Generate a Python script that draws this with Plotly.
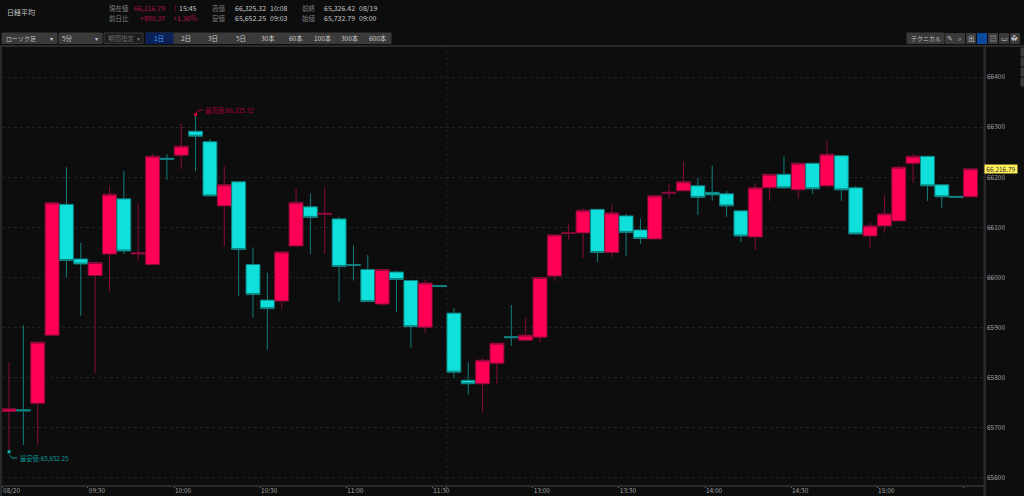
import plotly.graph_objects as go

times = ['09:00', '09:05', '09:10', '09:15', '09:20', '09:25', '09:30', '09:35', '09:40', '09:45', '09:50', '09:55',
         '10:00', '10:05', '10:10', '10:15', '10:20', '10:25', '10:30', '10:35', '10:40', '10:45', '10:50', '10:55',
         '11:00', '11:05', '11:10', '11:15', '11:20', '11:25', '11:30',
         '12:30', '12:35', '12:40', '12:45', '12:50', '12:55', '13:00', '13:05', '13:10', '13:15', '13:20', '13:25',
         '13:30', '13:35', '13:40', '13:45', '13:50', '13:55', '14:00', '14:05', '14:10', '14:15', '14:20', '14:25',
         '14:30', '14:35', '14:40', '14:45', '14:50', '14:55', '15:00', '15:05', '15:10', '15:15', '15:20', '15:25',
         '15:30']

opens = [65732.79, 65736, 65749, 65885, 66146, 66037, 66004, 66047, 66157, 66047, 66026, 66238,
         66244, 66292, 66271, 66143, 66191, 66026, 65955, 65953, 66063, 66141, 66126, 66117,
         66026, 66016, 65947, 66011, 65994, 65901, 65984,
         65929, 65795, 65788, 65829, 65882, 65875, 65881, 66003, 66088, 66089, 66136, 66050,
         66123, 66095, 66077, 66168, 66173, 66183, 66170, 66167, 66133, 66081, 66179, 66206,
         66175, 66228, 66183, 66243, 66179, 66083, 66103, 66113, 66228, 66242, 66185, 66162,
         66161]
highs = [65831, 65905, 65871, 66149, 66220, 66069, 66030, 66183, 66212, 66148, 66246, 66246,
         66306, 66325.32, 66276, 66222, 66191, 66060, 66010, 66051, 66177, 66168, 66180, 66121,
         66064, 66045, 66016, 66013, 65994, 65996, 65984,
         65939, 65831, 65839, 65869, 65945, 65920, 66000, 66085, 66108, 66138, 66137, 66146,
         66127, 66117, 66163, 66187, 66231, 66199, 66223, 66173, 66133, 66187, 66206, 66242,
         66230, 66228, 66272, 66243, 66183, 66111, 66165, 66224, 66246, 66242, 66185, 66162,
         66216.79]
lows = [65652.25, 65666, 65666, 65885, 66000, 65924, 65809, 65972, 66047, 66034, 66026, 66195,
        66216, 66212, 66163, 66063, 65963, 65920, 65856, 65938, 66063, 66047, 66047, 65952,
        65994, 65952, 65943, 65931, 65860, 65889, 65982,
        65800, 65766, 65731, 65788, 65864, 65873, 65871, 65993, 66075, 66039, 66031, 66041,
        66043, 66067, 66077, 66157, 66173, 66125, 66153, 66121, 66071, 66055, 66153, 66177,
        66157, 66167, 66179, 66153, 66087, 66059, 66089, 66113, 66189, 66153, 66139, 66160,
        66161]
closes = [65738, 65734, 65871, 66149, 66034, 66027, 66030, 66166, 66053, 66049, 66242, 66236,
          66262, 66282, 66163, 66185, 66056, 65966, 65938, 66051, 66150, 66120, 66128, 66022,
          66024, 65952, 66016, 65996, 65902, 65989, 65982,
          65811, 65788, 65835, 65869, 65880, 65885, 66000, 66085, 66089, 66134, 66050, 66129,
          66090, 66078, 66163, 66170, 66191, 66160, 66165, 66143, 66083, 66179, 66206, 66179,
          66228, 66177, 66246, 66175, 66087, 66103, 66127, 66220, 66242, 66183, 66161, 66160,
          66216.79]

tick_pos = [-0.45, 5.5, 11.5, 17.5, 23.5, 29.5, 30.5, 36.5, 42.5, 48.5, 54.5, 60.5, 66.5]
tick_labels = ['08/20', '09:30', '10:00', '10:30', '11:00', '11:30', '', '13:00', '13:30', '14:00', '14:30', '15:00', '']

range_buttons = ['1日', '2日', '3日', '5日', '30本', '60本', '100本', '300本', '600本']
info_labels = ['現在値', '前日比', '高値', '安値', '前終', '始値']
info_values = ['15:45', '+890.37', '+1.36%', '66,325.32', '10:08', '65,652.25', '09:03',
               '65,326.42', '08/19', '65,732.79', '09:00']
tool_icons = ['✎', '⌕', '出', '', '▤', '▭', '✿']

JP = 'Noto Sans CJK JP'
BG = '#0d0d0d'
PINK = '#ff0055'
TEAL = '#10e0dc'
PLOT_L, PLOT_R, PLOT_T, PLOT_B = 2, 984, 46, 486


def px(x):
    return (x - PLOT_L) / (PLOT_R - PLOT_L)


def py(y):
    return (PLOT_B - y) / (PLOT_B - PLOT_T)


def label(x, y, text, color='#a8a8a8', size=7, anchor='left', **kw):
    return dict(x=px(x), y=py(y), xref='paper', yref='paper', text=text, showarrow=False,
                xanchor=anchor, yanchor='middle', font=dict(family=JP, size=size, color=color),
                **kw)


def box(x0, y0, x1, y1, fill, line=None):
    return dict(type='rect', xref='paper', yref='paper', x0=px(x0), x1=px(x1), y0=py(y0), y1=py(y1),
                fillcolor=fill, line=dict(color=line or fill, width=1), layer='above')


bar_index = list(range(len(times)))

fig = go.Figure()
fig.add_trace(go.Candlestick(
    x=bar_index, open=opens, high=highs, low=lows, close=closes, text=times,
    increasing=dict(fillcolor=PINK, line=dict(color='#8a0a3e', width=1)),
    decreasing=dict(fillcolor=TEAL, line=dict(color='#0f7f7d', width=1)),
    whiskerwidth=0, showlegend=False,
))

# 高値・安値の印
hi_i = highs.index(max(highs))
lo_i = lows.index(min(lows))
fig.add_trace(go.Scatter(x=[hi_i], y=[highs[hi_i]], mode='markers', showlegend=False,
                         marker=dict(symbol='square', size=3, color='#c8003f')))
fig.add_trace(go.Scatter(x=[lo_i], y=[lows[lo_i]], mode='markers', showlegend=False,
                         marker=dict(symbol='square', size=3, color='#10b0ac')))

shapes = [
    # 11:30 の区切り線
    dict(type='line', xref='x', yref='paper', x0=30.5, x1=30.5, y0=0, y1=1,
         line=dict(color='#222222', width=1, dash='dot'), layer='below'),
    # 軸の枠
    box(0, 45.5, 1024, 46.5, '#2a2a2a'),
    box(984, 46, 985.5, 496, '#2a2a2a'),
    box(0.5, 46, 1.5, 496, '#2a2a2a'),
    box(0, 485.5, 985, 486.5, '#2a2a2a'),
    # ツールバー
    box(2, 33, 57, 43.5, '#3a3a3a'),
    box(59, 33, 102, 43.5, '#3a3a3a'),
    box(104, 33, 143, 43.5, '#1c1c1c', '#3a3a3a'),
    box(146, 33, 391, 43.5, '#3a3a3a'),
    box(146, 33, 173, 43.5, '#0a2258'),
    box(907, 33, 944, 43.5, '#3a3a3a'),
    # 高値・安値のつなぎ線
    dict(type='path', xref='paper', yref='paper', line=dict(color='#a80038', width=1),
         path=f'M {px(196)} {py(113)} L {px(199)} {py(110)} L {px(203)} {py(110)}'),
    dict(type='path', xref='paper', yref='paper', line=dict(color='#0f9a98', width=1),
         path=f'M {px(9.5)} {py(455)} L {px(12)} {py(458)} L {px(17)} {py(458)}'),
]
icon_x = [950, 960, 971, 982, 993, 1004, 1015]
for cx in icon_x:
    shapes.append(box(cx - 4.5, 33.5, cx + 4.5, 43.5, '#0a4aa0' if cx == 982 else '#3a3a3a'))
for cy in [52, 62, 72, 82]:
    shapes.append(box(1021, cy - 4, 1024, cy + 4, '#3a3a3a'))

annotations = [
    label(5, 12.5, '日経平均', '#c8c8c8'),
    label(107, 8, info_labels[0], '#808080', 6.5),
    label(107, 17.5, info_labels[1], '#808080', 6.5),
    label(167, 8, f'{closes[-1]:,.2f}', '#b0104a', 7, 'right'),
    label(172, 8, '!', '#b0104a'),
    label(176.5, 8, info_values[0], '#c8c8c8'),
    label(167, 17.5, info_values[1], '#b0104a', 7, 'right'),
    label(171, 17.5, info_values[2], '#b0104a'),
    label(210, 8, info_labels[2], '#808080', 6.5),
    label(210, 17.5, info_labels[3], '#808080', 6.5),
    label(232.5, 8, info_values[3], '#c8c8c8'),
    label(267.5, 8, info_values[4], '#c8c8c8'),
    label(232.5, 17.5, info_values[5], '#c8c8c8'),
    label(267.5, 17.5, info_values[6], '#c8c8c8'),
    label(300, 8, info_labels[4], '#808080', 6.5),
    label(300, 17.5, info_labels[5], '#808080', 6.5),
    label(322, 8, info_values[7], '#c8c8c8'),
    label(357, 8, info_values[8], '#c8c8c8'),
    label(322, 17.5, info_values[9], '#c8c8c8'),
    label(357, 17.5, info_values[10], '#c8c8c8'),
    label(3.5, 38.5, 'ローソク足', '#c8c8c8', 6),
    label(60, 38.5, '5分', '#c8c8c8', 6.5),
    label(106, 38.5, '期間指定', '#6a6a6a', 6.5),
    label(55, 38.5, '▾', '#c8c8c8', 6, 'right'),
    label(100, 38.5, '▾', '#c8c8c8', 6, 'right'),
    label(141.5, 38.5, '▾', '#6a6a6a', 6, 'right'),
    label(925.5, 38.5, 'テクニカル', '#c8c8c8', 6, 'center'),
    label(203, 110.5, f'最高値:{highs[hi_i]:,.2f}', '#a80038', 6.3),
    label(18, 458.5, f'最安値:{lows[lo_i]:,.2f}', '#0f9a98', 6.3),
    dict(x=px(1001), xref='paper', y=closes[-1], yref='y', text=f'{closes[-1]:,.2f}', showarrow=False,
         xanchor='center', yanchor='middle', bgcolor='#ffee58', borderpad=0, width=32, height=7.5,
         font=dict(family=JP, size=6.5, color='#333333')),
]
for i, (cx, name) in enumerate(zip([159, 186, 213, 241, 268, 296, 323, 350, 378], range_buttons)):
    annotations.append(label(cx, 38.5, name, '#4f9cf0' if i == 0 else '#c8c8c8', 6.5, 'center'))
for cx, glyph in zip(icon_x, tool_icons):
    if glyph:
        annotations.append(label(cx, 38.5, glyph, '#c8c8c8', 6.5, 'center'))

fig.update_layout(
    width=1024, height=496,
    margin=dict(l=PLOT_L, r=1024 - PLOT_R, t=PLOT_T, b=496 - PLOT_B, pad=0, autoexpand=False),
    paper_bgcolor=BG, plot_bgcolor=BG,
    boxgap=0.03, boxgroupgap=0, showlegend=False,
    font=dict(family=JP, size=6.5, color='#a0a0a0'),
    shapes=shapes, annotations=annotations,
    xaxis=dict(range=[-0.49, 67.94], rangeslider=dict(visible=False), tickmode='array',
               tickvals=tick_pos, ticktext=tick_labels, ticks='outside', ticklen=1, tickcolor='#666666',
               ticklabelshift=9, ticklabelstandoff=-3, showgrid=False, zeroline=False, showline=False,
               automargin=False, tickfont=dict(family=JP, size=6.5, color='#a0a0a0')),
    yaxis=dict(range=[65584, 66462], side='right', dtick=100, tickformat='d', showgrid=True,
               gridcolor='#222222', griddash='dot', gridwidth=1, zeroline=False, showline=False,
               automargin=False, ticklabelstandoff=2, tickfont=dict(family=JP, size=6.5, color='#a0a0a0')),
)

fig.write_html("out.html", config={'displayModeBar': False},
               post_script="document.body.style.margin='0';document.body.style.overflow='hidden';")
